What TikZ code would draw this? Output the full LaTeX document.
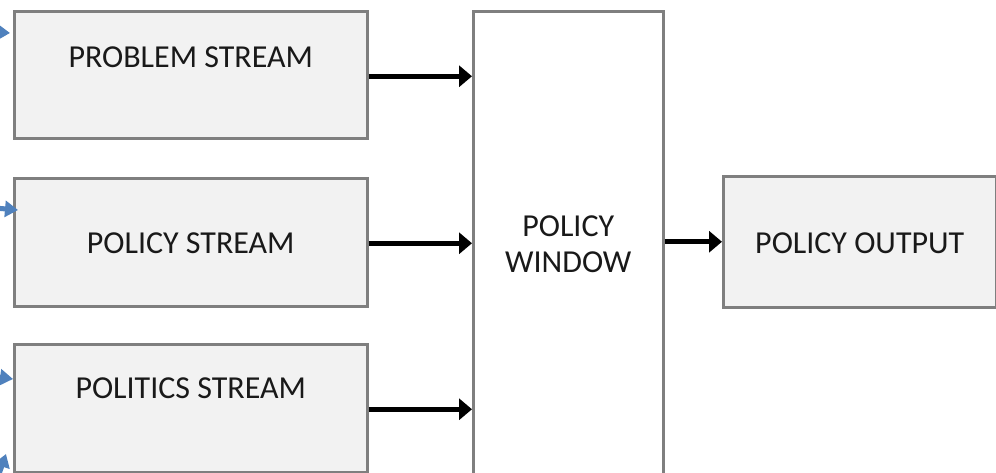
\documentclass[tikz,border=0pt]{standalone}
\usepackage{fontspec}
\setmainfont{Carlito}
\usetikzlibrary{arrows.meta,calc}
\definecolor{boxfill}{HTML}{F2F2F2}
\definecolor{boxline}{HTML}{7F7F7F}
\definecolor{bluearr}{HTML}{4F81BD}
\tikzset{
  streambox/.style={draw=boxline, fill=boxfill, line width=2.5pt, inner sep=0pt, anchor=north west},
  winbox/.style={draw=boxline, fill=white, line width=2.5pt, inner sep=0pt, anchor=north west},
  lbl/.style={font=\fontsize{32}{36}\selectfont, text=black!90, align=center, inner sep=0pt},
  flow/.style={line width=5pt, -{Triangle[length=13pt,width=21pt]}},
  bluetip/.style={draw=bluearr, line width=5pt, -{Triangle[length=13pt,width=16pt]}, color=bluearr}
}
\begin{document}
\begin{tikzpicture}[x=1pt,y=-1pt]
\useasboundingbox (0,0) rectangle (996,472);
\clip (0,0) rectangle (996,472);
\fill[white] (0,0) rectangle (996,472);
% boxes
\node[streambox, minimum width=353pt, minimum height=127pt] (prob) at (13,10) {};
\node[streambox, minimum width=353pt, minimum height=128pt] (pol) at (13,177) {};
\node[streambox, minimum width=353pt, minimum height=128pt] (polit) at (13,343) {};
\node[winbox, minimum width=190pt, minimum height=464pt] (win) at (472,10) {};
\node[streambox, minimum width=273pt, minimum height=131pt] (out) at (722,175) {};
% labels
\node[lbl] (tprob) at ($(prob.north)+(0,47)$) {PROBLEM STREAM};
\node[lbl] (tpol) at ($(pol.center)+(0,1)$) {POLICY STREAM};
\node[lbl] (tpolit) at ($(polit.north)+(0,45)$) {POLITICS STREAM};
\node[lbl] (twin) at ($(win.center)+(0,1)$) {POLICY\\[0pt]WINDOW};
\node[lbl] (tout) at ($(out.center)+(0,1)$) {POLICY OUTPUT};
% connectors
\coordinate (a1) at ($(prob.east)+(0,1.5)$);
\coordinate (a2) at ($(pol.east)+(0,1)$);
\coordinate (a3) at ($(polit.east)+(0,1)$);
\draw[flow] (a1) -- (a1 -| win.west);
\draw[flow] (a2) -- (a2 -| win.west);
\draw[flow] (a3) -- (a3 -| win.west);
\draw[flow] (win.east |- out.west) -- (out.west);
% blue arrow fragments at the left edge
\coordinate (b1s) at (-40,30);
\coordinate (b1e) at (10,33);
\coordinate (b2s) at (-40,205);
\coordinate (b2e) at (18,210);
\coordinate (b3s) at (-40,372);
\coordinate (b3e) at (13,379);
\coordinate (b4s) at (-10,500);
\coordinate (b4e) at (6,454);
\draw[bluetip] (b1s) -- (b1e);
\draw[bluetip] (b2s) -- (b2e);
\draw[bluetip] (b3s) -- (b3e);
\draw[bluetip] (b4s) -- (b4e);
\end{tikzpicture}
\end{document}
